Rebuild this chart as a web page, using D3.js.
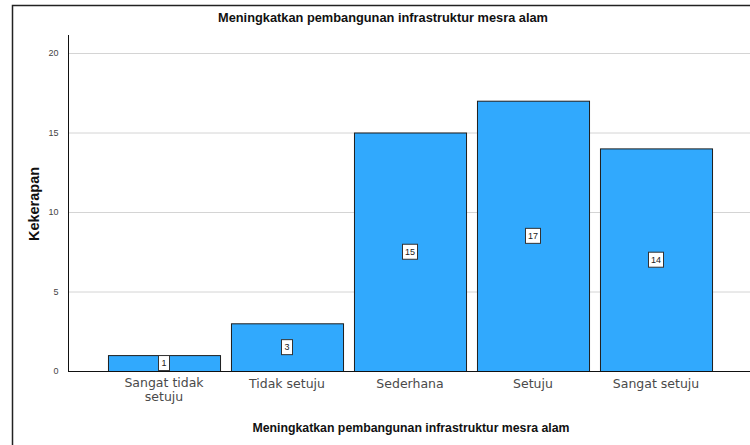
<!DOCTYPE html>
<html>
<head>
<meta charset="utf-8">
<script src="https://cdn.jsdelivr.net/npm/d3@7"></script>
<style>
  body { margin: 0; background: #fff; }
  svg { display: block; font-family: Arial, "Liberation Sans", sans-serif; }
</style>
</head>
<body>
<div id="chart"></div>
<script>
// data
let categories = ["Sangat tidak setuju", "Tidak setuju", "Sederhana", "Setuju", "Sangat setuju"]
let counts = [1, 3, 15, 17, 14]
let yTicks = [0, 5, 10, 15, 20]
let titleText = "Meningkatkan pembangunan infrastruktur mesra alam"

let width = 750, height = 445

let svg = d3.select("#chart").append("svg")
    .attr("width", width)
    .attr("height", height)

// outer frame
svg.append("rect")
    .attr("x", 12.5).attr("y", 5.5)
    .attr("width", 800).attr("height", 500)
    .attr("fill", "none")
    .attr("stroke", "#222")
    .attr("stroke-width", 1.5)

let x = d3.scaleBand()
    .domain(categories)
    .range([68, 752])
    .paddingInner(0.089)
    .paddingOuter(0.325)

let y = d3.scaleLinear()
    .domain([0, 20])
    .range([371, 53])

// grid lines
svg.append("g")
    .selectAll("line")
    .data(yTicks.filter(d => d > 0))
    .enter()
    .append("line")
    .attr("x1", 68).attr("x2", width)
    .attr("y1", d => y(d) + 0.5).attr("y2", d => y(d) + 0.5)
    .attr("stroke", "#d4d4d4")
    .attr("stroke-width", 1)

// bars
svg.append("g")
    .selectAll("rect")
    .data(counts)
    .enter()
    .append("rect")
    .attr("x", (d, i) => x(categories[i]) + 0.5)
    .attr("y", d => y(d) + 0.5)
    .attr("width", x.bandwidth())
    .attr("height", d => y(0) - y(d))
    .attr("fill", "#31a9fd")
    .attr("stroke", "#1e1e1e")
    .attr("stroke-width", 1)

// value labels
let labels = svg.append("g")
    .selectAll("g")
    .data(counts)
    .enter()
    .append("g")
    .attr("transform", (d, i) => "translate(" + (x(categories[i]) + x.bandwidth() / 2) + "," + ((y(d) + y(0)) / 2) + ")")

labels.append("rect")
    .attr("x", d => String(d).length > 1 ? -7.5 : -5.5)
    .attr("y", -7.5)
    .attr("width", d => String(d).length > 1 ? 15 : 11)
    .attr("height", 15)
    .attr("fill", "#fff")
    .attr("stroke", "#333")
    .attr("stroke-width", 1)

labels.append("text")
    .attr("text-anchor", "middle")
    .attr("dy", "0.36em")
    .attr("font-size", 9)
    .attr("fill", "#222")
    .text(d => d)

// y axis
let yAxis = svg.append("g")
    .attr("transform", "translate(68.5,0)")
    .call(d3.axisLeft(y).tickValues(yTicks).tickSize(0).tickPadding(10))
yAxis.select(".domain").attr("d", "M0,35V371.5").attr("stroke", "#111")
yAxis.selectAll("text").attr("font-size", 9).attr("fill", "#444")
    .attr("font-family", "Arial, 'Liberation Sans', sans-serif")

// x axis
let xAxis = svg.append("g")
    .attr("transform", "translate(0,371.5)")
    .call(d3.axisBottom(x).tickSize(0).tickPadding(8))
xAxis.select(".domain").attr("d", "M68,0H" + width).attr("stroke", "#111")
xAxis.selectAll("text")
    .attr("font-size", 12.5)
    .attr("fill", "#4a4a4a")
    .attr("font-family", "'DejaVu Sans', Verdana, sans-serif")
    .each(function (d) {
        // wrap the long first label onto two lines
        if (d == "Sangat tidak setuju") {
            let t = d3.select(this)
            t.text(null)
            t.append("tspan").attr("x", 0).attr("dy", "0.6em").text("Sangat tidak")
            t.append("tspan").attr("x", 0).attr("dy", "1.1em").text("setuju")
        }
    })

// titles
svg.append("text")
    .attr("x", 383).attr("y", 22)
    .attr("text-anchor", "middle")
    .attr("font-size", 12.8)
    .attr("font-weight", "bold")
    .attr("fill", "#111")
    .text(titleText)

svg.append("text")
    .attr("x", 411).attr("y", 432)
    .attr("text-anchor", "middle")
    .attr("font-size", 12.3)
    .attr("font-weight", "bold")
    .attr("fill", "#111")
    .text(titleText)

svg.append("text")
    .attr("transform", "translate(39,204) rotate(-90)")
    .attr("text-anchor", "middle")
    .attr("font-size", 14.5)
    .attr("font-weight", "bold")
    .attr("fill", "#111")
    .text("Kekerapan")
</script>
</body>
</html>
